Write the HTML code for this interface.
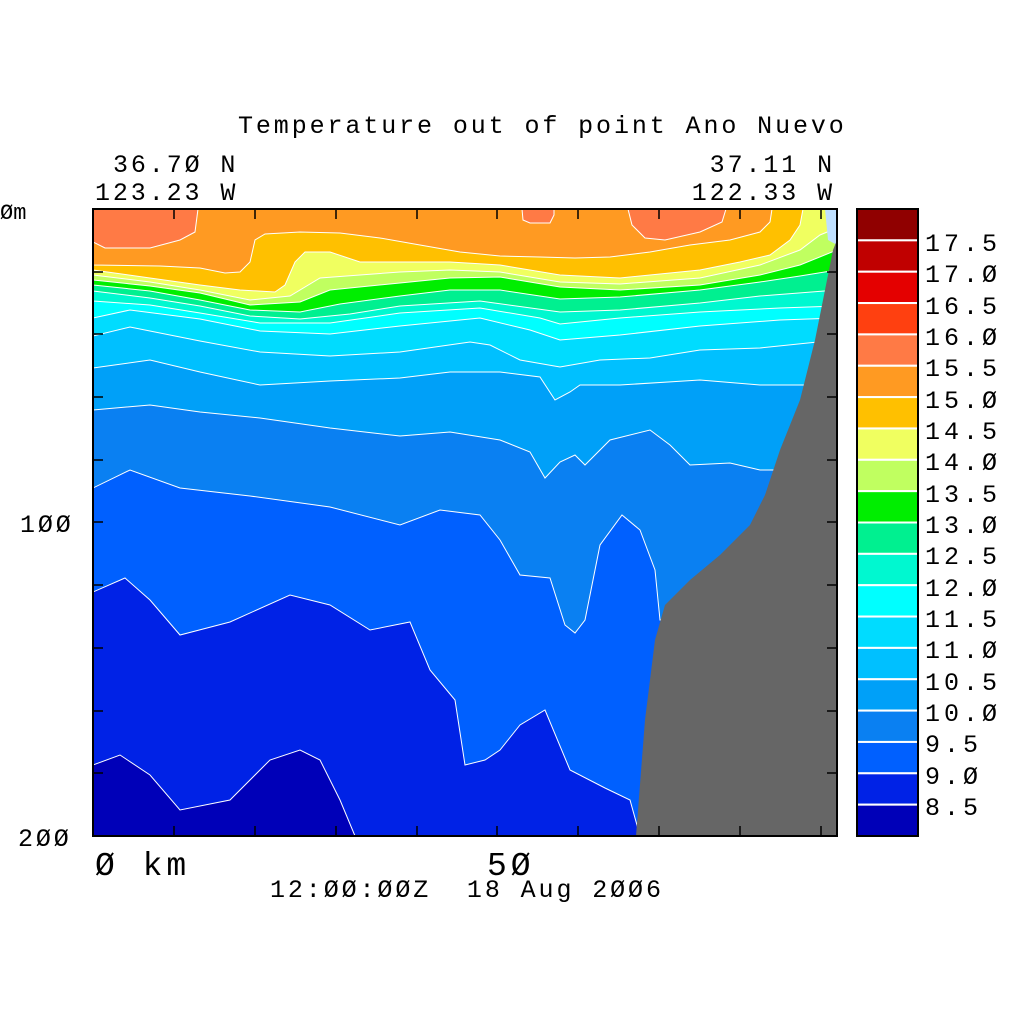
<!DOCTYPE html>
<html><head><meta charset="utf-8"><style>
html,body{margin:0;padding:0;background:#fff;width:1024px;height:1024px;overflow:hidden}
text{font-family:"Liberation Mono","DejaVu Sans Mono",monospace;fill:#000;white-space:pre}
</style></head><body>
<svg width="1024" height="1024" viewBox="0 0 1024 1024" xmlns="http://www.w3.org/2000/svg">
<defs><clipPath id="c"><rect x="93" y="209" width="744" height="627"/></clipPath></defs>
<g clip-path="url(#c)" stroke="#fff" stroke-width="1">
<rect x="93" y="209" width="744" height="627" fill="#0000B8" stroke="none"/>
<path fill="#0022E6" d="M93,209 L93,765 120,755 150,775 180,810 230,800 270,760 300,750 320,760 340,800 355,836 837,836 837,209Z"/>
<path fill="#0060FF" d="M93,209 L93,592 125,578 150,600 180,635 230,622 290,595 330,605 370,630 410,622 430,670 455,700 465,765 485,760 500,750 520,725 545,710 570,770 605,788 630,800 640,836 837,836 837,209Z"/>
<path fill="#0A80F2" d="M93,209 L93,488 130,470 180,488 250,496 330,507 400,525 440,510 480,515 500,540 520,575 550,578 565,625 575,633 585,620 600,545 622,515 640,530 655,570 660,620 837,620 837,209Z"/>
<path fill="#00A0F8" d="M93,209 L93,410 150,405 200,412 260,418 330,428 400,436 450,432 500,440 530,452 545,478 560,462 575,455 585,465 610,440 650,430 670,445 690,465 730,463 760,470 837,470 837,209Z"/>
<path fill="#00C0FF" d="M93,209 L93,368 150,360 200,372 260,385 330,381 400,378 450,372 500,372 540,377 555,400 570,392 580,385 620,385 700,380 760,385 837,385 837,209Z"/>
<path fill="#00DCFF" d="M93,209 L93,336 130,327 200,341 260,352 330,356 400,352 470,342 490,345 520,360 560,367 600,360 650,358 700,350 760,348 837,340 837,209Z"/>
<path fill="#00FFFF" d="M93,209 L93,318 130,310 200,319 260,331 330,334 400,326 480,318 530,330 560,340 620,335 700,326 780,320 837,318 837,209Z"/>
<path fill="#00F8D0" d="M93,209 L93,301 150,305 200,313 260,323 330,323 400,313 480,308 540,318 560,324 620,318 700,312 780,308 837,306 837,209Z"/>
<path fill="#00F090" d="M93,209 L93,291 150,298 200,306 250,316 300,319 350,314 400,306 480,301 560,312 620,310 700,303 760,296 837,290 837,209Z"/>
<path fill="#00EE00" d="M93,209 L93,285 150,291 200,300 250,310 300,312 340,304 400,296 450,290 500,290 560,299 620,297 700,290 760,282 800,276 837,270 837,209Z"/>
<path fill="#C0FF60" d="M93,209 L93,280 150,286 200,293 250,305 300,302 330,290 400,283 450,278 500,277 560,287 620,290 700,285 760,275 800,265 837,250 837,209Z"/>
<path fill="#F0FF60" d="M93,209 L93,275 150,282 200,290 250,300 290,296 320,278 360,275 400,272 450,270 500,272 560,282 620,284 700,278 760,265 800,250 820,235 837,228 837,209Z"/>
<path fill="#FFC000" d="M93,209 L93,270 150,278 200,285 240,290 275,292 285,285 295,262 305,252 330,252 360,262 400,262 450,262 500,265 560,275 620,278 700,270 740,262 770,255 790,240 800,225 803,209Z"/>
<path fill="#FF9A22" d="M93,209 L93,265 160,266 200,268 225,273 240,272 250,262 255,240 265,234 300,232 340,233 380,238 420,245 460,252 500,256 540,257 575,258 610,257 650,252 690,245 730,240 760,232 770,222 772,209Z"/>
<path fill="#FF7A45" d="M93,209 L93,242 105,248 150,248 180,240 195,232 198,209Z"/>
<path fill="#FF7A45" d="M522,209 L523,220 530,223 550,223 554,215 554,209Z"/>
<path fill="#FF7A45" d="M628,209 L632,225 645,238 665,240 700,232 722,222 726,209Z"/>
<path fill="#BFE0FF" stroke="none" d="M825,209 L837,209 837,245 828,240Z"/>
<path fill="#666" stroke="none" d="M636,836 L645,720 655,640 665,605 690,580 720,555 750,525 765,495 780,450 800,400 815,340 825,290 833,250 837,240 837,836Z"/>
</g>
<g stroke="#000" stroke-width="1.5">
<rect x="93" y="209" width="744" height="627" fill="none" stroke-width="2"/>
<path d="M93,272h10M93,334h10M93,397h10M93,460h10M93,522h10M93,585h10M93,648h10M93,711h10M93,773h10
M837,272h-10M837,334h-10M837,397h-10M837,460h-10M837,522h-10M837,585h-10M837,648h-10M837,711h-10M837,773h-10
M174,209v10M255,209v10M336,209v10M417,209v10M497,209v10M578,209v10M659,209v10M740,209v10M821,209v10
M174,836v-10M255,836v-10M336,836v-10M417,836v-10M497,836v-10M578,836v-10M659,836v-10M740,836v-10M821,836v-10"/>
</g>
<g stroke="#fff" stroke-width="2">
<rect x="857" y="209" width="61" height="31.35" fill="#900000"/>
<rect x="857" y="240.35" width="61" height="31.35" fill="#C00000"/>
<rect x="857" y="271.7" width="61" height="31.35" fill="#E40000"/>
<rect x="857" y="303.05" width="61" height="31.35" fill="#FF4010"/>
<rect x="857" y="334.4" width="61" height="31.35" fill="#FF7A45"/>
<rect x="857" y="365.75" width="61" height="31.35" fill="#FF9A22"/>
<rect x="857" y="397.1" width="61" height="31.35" fill="#FFC000"/>
<rect x="857" y="428.45" width="61" height="31.35" fill="#F0FF60"/>
<rect x="857" y="459.8" width="61" height="31.35" fill="#C0FF60"/>
<rect x="857" y="491.15" width="61" height="31.35" fill="#00EE00"/>
<rect x="857" y="522.5" width="61" height="31.35" fill="#00F090"/>
<rect x="857" y="553.85" width="61" height="31.35" fill="#00F8D0"/>
<rect x="857" y="585.2" width="61" height="31.35" fill="#00FFFF"/>
<rect x="857" y="616.55" width="61" height="31.35" fill="#00DCFF"/>
<rect x="857" y="647.9" width="61" height="31.35" fill="#00C0FF"/>
<rect x="857" y="679.25" width="61" height="31.35" fill="#00A0F8"/>
<rect x="857" y="710.6" width="61" height="31.35" fill="#0A80F2"/>
<rect x="857" y="741.95" width="61" height="31.35" fill="#0060FF"/>
<rect x="857" y="773.3" width="61" height="31.35" fill="#0022E6"/>
<rect x="857" y="804.65" width="61" height="31.35" fill="#0000B8"/>
</g>
<rect x="857" y="209" width="61" height="627" fill="none" stroke="#000" stroke-width="2"/>
<g font-size="25" letter-spacing="4">
<text x="925" y="251">17.5</text><text x="925" y="282">17.Ø</text><text x="925" y="314">16.5</text>
<text x="925" y="345">16.Ø</text><text x="925" y="376">15.5</text><text x="925" y="408">15.Ø</text>
<text x="925" y="439">14.5</text><text x="925" y="470">14.Ø</text><text x="925" y="502">13.5</text>
<text x="925" y="533">13.Ø</text><text x="925" y="564">12.5</text><text x="925" y="596">12.Ø</text>
<text x="925" y="627">11.5</text><text x="925" y="658">11.Ø</text><text x="925" y="690">10.5</text>
<text x="925" y="721">10.Ø</text><text x="925" y="752">9.5</text><text x="925" y="784">9.Ø</text>
<text x="925" y="815">8.5</text>
</g>
<g font-size="25" letter-spacing="2.9">
<text x="238" y="133">Temperature out of point Ano Nuevo</text>
<text x="113" y="172">36.7Ø N</text>
<text x="95" y="200">123.23 W</text>
<text x="835" y="172" text-anchor="end">37.11 N</text>
<text x="835" y="200" text-anchor="end">122.33 W</text>
<text x="20" y="532">1ØØ</text>
<text x="18" y="846">2ØØ</text>
<text x="270" y="897">12:ØØ:ØØZ&#160;&#160;18 Aug 2ØØ6</text>
</g>
<text x="0" y="219" font-size="22">Øm</text>
<g font-size="33" letter-spacing="4">
<text x="95" y="875">Ø km</text>
<text x="487" y="875">5Ø</text>
</g>
</svg>
</body></html>
